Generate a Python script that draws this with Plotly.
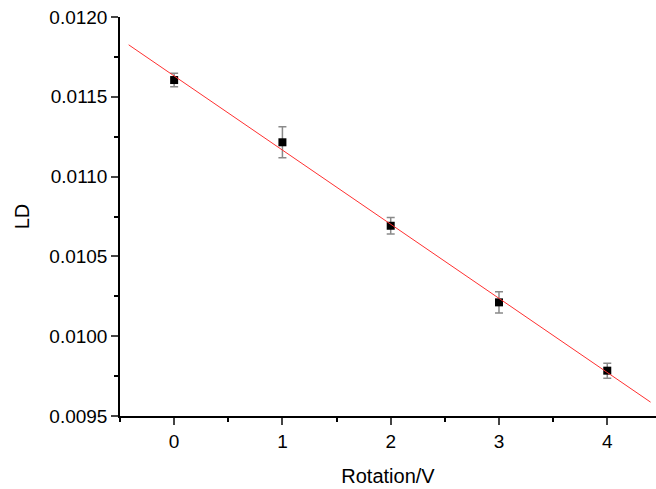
import numpy as np
import plotly.graph_objects as go

rotation = [0, 1, 2, 3, 4]
ld = [0.011605, 0.011215, 0.010692, 0.010212, 0.009784]
ld_err = [0.000042, 0.000097, 0.000052, 0.000066, 0.000047]
fit_x_span = [-0.42, 4.40]
y_ticks = [0.0095, 0.0100, 0.0105, 0.0110, 0.0115, 0.0120]
x_ticks = [0, 1, 2, 3, 4]

slope, intercept = np.polyfit(rotation, ld, 1)
fit_x = np.array(fit_x_span)
fit_y = slope * fit_x + intercept

font = "Liberation Sans, Arial, sans-serif"

fig = go.Figure()
fig.add_trace(go.Scatter(
    x=rotation, y=ld, mode="markers",
    marker=dict(symbol="square", size=8, color="black"),
    error_y=dict(type="data", array=ld_err, visible=True, color="#8a8a8a", thickness=1.5, width=4),
    showlegend=False,
))
fig.add_trace(go.Scatter(
    x=fit_x, y=fit_y, mode="lines",
    line=dict(color="#ff3030", width=1),
    showlegend=False,
))

fig.update_layout(
    width=656, height=489,
    margin=dict(l=120, r=0, t=17, b=73),
    paper_bgcolor="white", plot_bgcolor="white",
    font=dict(family=font, size=19, color="black"),
)
fig.update_xaxes(
    range=[-0.5, 4.45], tickvals=x_ticks, ticks="outside", ticklen=7, tickwidth=1.5,
    showline=True, linecolor="black", linewidth=1.5, showgrid=False, zeroline=False,
    minor=dict(dtick=0.5, ticks="outside", ticklen=4, tickwidth=1.5, tickcolor="black", showgrid=False),
    title=dict(text="Rotation/V", font=dict(size=20), standoff=18),
    tickfont=dict(size=19),
)
fig.update_yaxes(
    range=[0.0095, 0.0120], tickvals=y_ticks, tickformat=".4f", ticks="outside", ticklen=7, tickwidth=1.5,
    showline=True, linecolor="black", linewidth=1.5, showgrid=False, zeroline=False,
    minor=dict(dtick=0.00025, ticks="outside", ticklen=4, tickwidth=1.5, tickcolor="black", showgrid=False),
    title=dict(text="LD", font=dict(size=20), standoff=14),
    tickfont=dict(size=19),
)

fig.write_html("out.html")
